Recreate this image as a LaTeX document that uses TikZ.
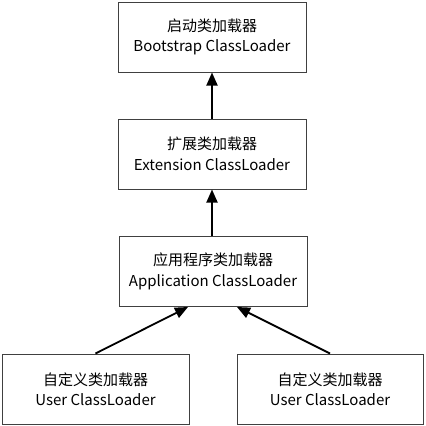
\documentclass[tikz,border=0pt]{standalone}
\usepackage{fontspec}
\setmainfont{Noto Sans CJK SC}
\usetikzlibrary{arrows.meta}
\begin{document}
\begin{tikzpicture}[x=1pt,y=1pt,
  box/.style={draw=black!75, line width=1pt, fill=white, minimum width=188pt, minimum height=70pt, inner sep=0pt, align=center, font=\fontsize{15}{20.5}\selectfont},
  arr/.style={line width=1.8pt, -{Triangle[length=13pt,width=11pt]}}]
\useasboundingbox (0,0) rectangle (426,-426);
\node[box] (boot) at (212,-37) {启动类加载器\\Bootstrap ClassLoader};
\node[box] (ext) at (212,-154) {扩展类加载器\\Extension ClassLoader};
\node[box] (app) at (213,-271.5) {应用程序类加载器\\Application ClassLoader};
\node[box, minimum width=187pt] (u1) at (95.5,-389) {自定义类加载器\\User ClassLoader};
\node[box, minimum width=186pt] (u2) at (330,-389) {自定义类加载器\\User ClassLoader};
\draw[arr] (ext.north) -- (boot.south);
\draw[arr] (app.north -| ext.south) -- (ext.south);
\draw[arr] (u1.north) -- (app.south -| 188,0);
\draw[arr] (u2.north) -- (app.south -| 237,0);
\end{tikzpicture}
\end{document}
